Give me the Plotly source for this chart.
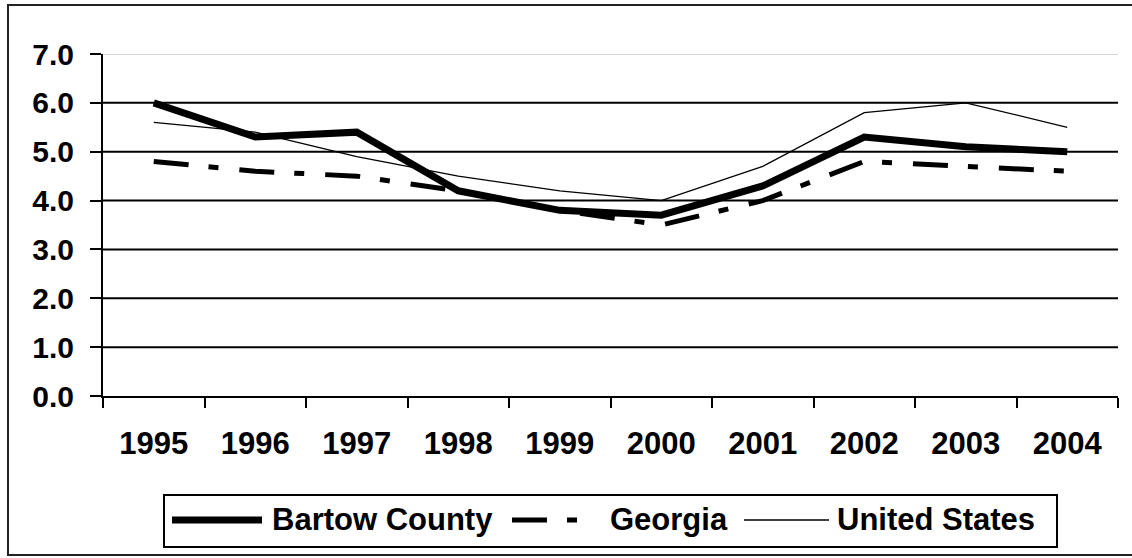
import plotly.graph_objects as go

# Unemployment rate (%) by year
years = ["1995", "1996", "1997", "1998", "1999", "2000", "2001", "2002", "2003", "2004"]
bartow = [6.0, 5.3, 5.4, 4.2, 3.8, 3.7, 4.3, 5.3, 5.1, 5.0]
georgia = [4.8, 4.6, 4.5, 4.2, 3.8, 3.5, 4.0, 4.8, 4.7, 4.6]
united_states = [5.6, 5.4, 4.9, 4.5, 4.2, 4.0, 4.7, 5.8, 6.0, 5.5]
y_ticks = [0.0, 1.0, 2.0, 3.0, 4.0, 5.0, 6.0, 7.0]
series_names = ["Bartow County", "Georgia", "United States"]

W, H = 1132, 558
ML, MR, MT, MB = 103, 14, 54, 162
PW, PH = W - ML - MR, H - MT - MB

FONT = "Liberation Sans, Arial, sans-serif"
GEORGIA_DASH = "35px,20px,10px,21px"


def px_x(x):
    return (x - ML) / PW


def px_y(y):
    return (H - MB - y) / PH


fig = go.Figure()
fig.add_trace(go.Scatter(x=years, y=bartow, name=series_names[0], mode="lines",
                         line=dict(color="black", width=7)))
fig.add_trace(go.Scatter(x=years, y=georgia, name=series_names[1], mode="lines",
                         line=dict(color="black", width=5, dash=GEORGIA_DASH)))
fig.add_trace(go.Scatter(x=years, y=united_states, name=series_names[2], mode="lines",
                         line=dict(color="black", width=1.3)))

shapes = []
# horizontal gridlines; the top one is light grey
for v in y_ticks[1:]:
    top = v == y_ticks[-1]
    shapes.append(dict(type="line", xref="paper", yref="y", x0=0, x1=1, y0=v, y1=v,
                       line=dict(color="#c8c8c8" if top else "black", width=1.5 if top else 2),
                       layer="below"))

# outer frame
shapes.append(dict(type="rect", xref="paper", yref="paper",
                   x0=px_x(8), x1=px_x(1145), y0=px_y(555), y1=px_y(5),
                   line=dict(color="#222222", width=2)))

# legend box and samples
shapes.append(dict(type="rect", xref="paper", yref="paper",
                   x0=px_x(164), x1=px_x(1057), y0=px_y(547), y1=px_y(495),
                   line=dict(color="black", width=2), fillcolor="white"))
LEG_Y = 520
shapes.append(dict(type="line", xref="paper", yref="paper",
                   x0=px_x(172), x1=px_x(262), y0=px_y(LEG_Y), y1=px_y(LEG_Y),
                   line=dict(color="black", width=7)))
shapes.append(dict(type="line", xref="paper", yref="paper",
                   x0=px_x(512), x1=px_x(590), y0=px_y(LEG_Y), y1=px_y(LEG_Y),
                   line=dict(color="black", width=5, dash=GEORGIA_DASH)))
shapes.append(dict(type="line", xref="paper", yref="paper",
                   x0=px_x(744), x1=px_x(829), y0=px_y(LEG_Y), y1=px_y(LEG_Y),
                   line=dict(color="black", width=1.3)))

annotations = []
for name, xpos in zip(series_names, [270, 608, 835]):
    annotations.append(dict(text=name, xref="paper", yref="paper",
                            x=px_x(xpos), y=px_y(LEG_Y - 1), xanchor="left", yanchor="middle",
                            showarrow=False,
                            font=dict(family=FONT, size=31, color="black", weight="bold")))

fig.update_layout(
    width=W, height=H,
    margin=dict(l=ML, r=MR, t=MT, b=MB, pad=0),
    paper_bgcolor="white", plot_bgcolor="white",
    showlegend=False,
    shapes=shapes,
    annotations=annotations,
    font=dict(family=FONT, color="black", weight="bold"),
)
fig.update_xaxes(
    type="category", categoryorder="array", categoryarray=years,
    range=[-0.5, len(years) - 0.5],
    showgrid=False, zeroline=False,
    showline=True, linecolor="black", linewidth=2,
    ticks="outside", tickson="boundaries", ticklen=10, tickwidth=2, tickcolor="black",
    tickfont=dict(family=FONT, size=31, color="black", weight="bold"),
    ticklabelstandoff=19,
)
fig.update_yaxes(
    range=[0, 7], tickvals=y_ticks, tickformat=".1f",
    showgrid=False, zeroline=False,
    showline=True, linecolor="black", linewidth=2,
    ticks="outside", ticklen=11, tickwidth=2, tickcolor="black",
    tickfont=dict(family=FONT, size=30, color="black", weight="bold"),
    ticklabelstandoff=10,
)

fig.write_html("out.html")
